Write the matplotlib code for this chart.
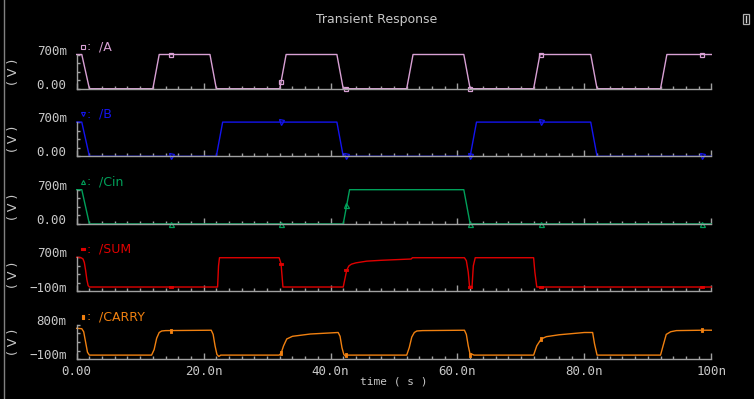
import matplotlib
matplotlib.use('Agg')
import matplotlib.pyplot as plt
from matplotlib.path import Path
from matplotlib.transforms import offset_copy
import matplotlib.patches as mpatches

# ---------------- data ----------------
A_t = [0, 0.8, 2.0, 12.0, 13.0, 21.0, 22.0, 32.0, 33.0, 41.0, 42.0, 52.0, 53.0,
       61.0, 62.0, 72.0, 73.0, 81.0, 82.0, 92.0, 93.0, 100]
A_v = [0.7, 0.7, 0, 0, 0.7, 0.7, 0, 0, 0.7, 0.7, 0, 0, 0.7,
       0.7, 0, 0, 0.7, 0.7, 0, 0, 0.7, 0.7]
A_mt = [14.9, 32.2, 42.5, 61.9, 73.2, 98.6]
A_mv = [0.7, 0.14, 0, 0, 0.7, 0.7]

B_t = [0, 0.8, 2.0, 22.0, 23.0, 41.0, 42.0, 62.0, 63.0, 81.0, 82.0, 100]
B_v = [0.7, 0.7, 0, 0, 0.7, 0.7, 0, 0, 0.7, 0.7, 0, 0]
B_mt = [14.9, 32.2, 42.5, 62.0, 73.2, 98.6]
B_mv = [0, 0.7, 0, 0, 0.7, 0]

C_t = [0, 0.8, 2.0, 42.0, 43.0, 61.0, 62.0, 100]
C_v = [0.7, 0.7, 0, 0, 0.7, 0.7, 0, 0]
C_mt = [14.9, 32.2, 42.5, 62.0, 73.2, 98.6]
C_mv = [0, 0, 0.38, 0, 0, 0]

S_t = [0, 0.7, 1.0, 1.2, 1.4, 1.6, 1.8, 2.0, 22.2, 22.35, 22.5, 31.9, 32.2, 32.5,
       42.0, 42.3, 42.55, 42.9, 43.3, 44.0, 45.7, 48.0, 52.7, 52.9, 61.1, 61.4,
       61.7, 61.9, 62.3, 62.5, 62.8, 72.0, 72.2, 72.5, 100]
S_v = [0.70, 0.69, 0.66, 0.58, 0.40, 0.18, 0.04, 0.005, 0.005, 0.5, 0.69, 0.69, 0.55, 0.005,
       0.005, 0.22, 0.40, 0.50, 0.54, 0.57, 0.61, 0.63, 0.66, 0.69, 0.69, 0.62,
       0.35, 0.02, 0.02, 0.5, 0.69, 0.69, 0.35, 0.005, 0.005]
S_mt = [14.9, 32.2, 42.5, 62.0, 73.2, 98.6]
S_mv = [0.005, 0.55, 0.40, 0.005, 0.005, 0.005]

K_t = [0, 0.8, 1.1, 1.4, 1.7, 2.0, 11.8, 12.2, 12.6, 13.0, 13.4, 14.0, 21.2, 21.5, 21.8,
       22.1, 22.4, 22.7, 31.9, 32.2, 32.6, 33.1, 34.0, 36.8, 41.2, 41.5, 41.8, 42.1,
       42.4, 42.7, 52.0, 52.4, 52.8, 53.2, 53.6, 54.5, 61.1, 61.4, 61.7, 62.0, 62.3,
       62.6, 72.0, 72.5, 73.2, 74.0, 76.0, 80.0, 81.3, 81.6, 82.0, 92.0, 92.4, 92.9,
       93.6, 94.5, 98.6, 100]
K_v = [0.71, 0.70, 0.62, 0.35, 0.08, 0.005, 0.005, 0.15, 0.45, 0.60, 0.64, 0.65, 0.66, 0.55, 0.25,
       0.02, -0.03, 0.005, 0.005, 0.05, 0.25, 0.43, 0.50, 0.56, 0.60, 0.50, 0.20, 0.02,
       -0.03, 0.005, 0.005, 0.20, 0.48, 0.60, 0.64, 0.65, 0.66, 0.55, 0.25, 0.02, 0.03,
       0.005, 0.005, 0.25, 0.43, 0.49, 0.54, 0.60, 0.60, 0.30, 0.005, 0.005, 0.25, 0.55,
       0.62, 0.65, 0.66, 0.66]
K_mt = [14.9, 32.2, 42.5, 62.0, 73.2, 98.6]
K_mv = [0.64, 0.05, 0.005, 0.02, 0.43, 0.66]

names = ['/A', '/B', '/Cin', '/SUM', '/CARRY']
colors = ['#d8a0d4', '#1414f0', '#00a05a', '#e00000', '#f08010']
ylims = [(0.0, 0.7), (0.0, 0.7), (0.0, 0.7), (-0.1, 0.7), (-0.1, 0.8)]
ytick_labels = [('0.00', '700m'), ('0.00', '700m'), ('0.00', '700m'),
                ('\u2212100m', '700m'), ('\u2212100m', '800m')]
xtick_vals = [0, 20, 40, 60, 80, 100]
xtick_labels = ['0.00', '20.0n', '40.0n', '60.0n', '80.0n', '100n']
series = [(A_t, A_v, A_mt, A_mv), (B_t, B_v, B_mt, B_mv), (C_t, C_v, C_mt, C_mv),
          (S_t, S_v, S_mt, S_mv), (K_t, K_v, K_mt, K_mv)]

# ---------------- styling ----------------
W, H = 754, 399
fig = plt.figure(figsize=(W / 100, H / 100), dpi=100, facecolor='black')
grey = '#a0a0a0'
txt = '#c8c8c8'
mono = 'DejaVu Sans Mono'

hrect = Path([(-1, -0.55), (1, -0.55), (1, 0.55), (-1, 0.55), (-1, -0.55)],
             [Path.MOVETO, Path.LINETO, Path.LINETO, Path.LINETO, Path.CLOSEPOLY])
vrect = Path([(-0.55, -1), (0.55, -1), (0.55, 1), (-0.55, 1), (-0.55, -1)],
             [Path.MOVETO, Path.LINETO, Path.LINETO, Path.LINETO, Path.CLOSEPOLY])
markers = ['s', 'v', '^', hrect, vrect]
msizes = [3.0, 3.6, 3.6, 3.3, 3.3]
mfill = ['none', 'none', 'none', 'full', 'full']

left_px, right_px = 76.7, 711.3
top0, step, ph = 54.5, 67.6, 34.2

for i in range(5):
    top = top0 + step * i
    ax = fig.add_axes([left_px / W, 1 - (top + ph) / H, (right_px - left_px) / W, ph / H])
    ax.set_facecolor('black')
    t, v, mt, mv = series[i]
    c = colors[i]
    ax.plot(t, v, color=c, lw=1.0, solid_joinstyle='round', clip_on=False)
    if mfill[i] == 'none':
        ax.plot(mt, mv, ls='none', marker=markers[i], ms=msizes[i], mfc='none',
                mec=c, mew=0.9, clip_on=False)
    else:
        ax.plot(mt, mv, ls='none', marker=markers[i], ms=msizes[i], mfc=c,
                mec=c, mew=0.6, clip_on=False)
    lo, hi = ylims[i]
    ax.set_xlim(0, 100)
    ax.set_ylim(lo, hi)
    for s in ['top', 'right']:
        ax.spines[s].set_visible(False)
    for s in ['left', 'bottom']:
        ax.spines[s].set_color(grey)
        ax.spines[s].set_linewidth(1.0)
    ax.set_xticks(xtick_vals)
    ax.set_xticks([x for x in range(2, 100, 2) if x % 20 != 0], minor=True)
    ax.set_yticks([lo, hi])
    step_y = (hi - lo) / 4
    ax.set_yticks([lo + step_y * k for k in range(1, 4)], minor=True)
    ax.tick_params(axis='both', which='both', direction='in', colors=grey)
    ax.tick_params(axis='x', which='major', length=4, width=1)
    ax.tick_params(axis='x', which='minor', length=2.2, width=1)
    ax.tick_params(axis='y', which='both', length=2.5, width=1, labelleft=False)
    if i < 4:
        ax.tick_params(axis='x', labelbottom=False)
    else:
        ax.set_xticklabels(xtick_labels, fontfamily=mono, fontsize=9, color=txt)
        ax.tick_params(axis='x', which='major', pad=4.5)
    # y labels (ends only)
    tr = offset_copy(ax.get_yaxis_transform(), fig=fig, x=-10, y=3.3, units='dots')
    ax.text(0, lo, ytick_labels[i][0], transform=tr, ha='right', va='center',
            fontfamily=mono, fontsize=9, color=txt)
    ax.text(0, hi, ytick_labels[i][1], transform=tr, ha='right', va='center',
            fontfamily=mono, fontsize=9, color=txt)
    # unit label
    fig.text(13 / W, 1 - (top + ph / 2) / H, '( V )', rotation=90, ha='center',
             va='center', fontsize=9, color=txt)
    # legend entry
    ly = 1 - (top - 8) / H
    fig.lines.append(plt.Line2D([83.3 / W], [ly], transform=fig.transFigure, ls='none',
                                marker=markers[i], ms=msizes[i] * 0.8,
                                mfc=('none' if mfill[i] == 'none' else c), mec=c, mew=0.8))
    fig.text(87 / W, ly, ':', ha='left', va='center', fontsize=9, color=c)
    fig.text(99 / W, ly, names[i], ha='left', va='center', fontsize=9, color=c)

fig.text(394 / W, 1 - 381.7 / H, 'time ( s )', ha='center', va='center',
         fontfamily=mono, fontsize=8, color=txt)
fig.text(376.7 / W, 1 - 19.5 / H, 'Transient Response', ha='center', va='center',
         fontsize=9, color=txt)

# window icon and border
fig.patches.append(mpatches.Rectangle((743 / W, 1 - 24 / H), 5.5 / W, 10.5 / H,
                                      transform=fig.transFigure, fill=False,
                                      edgecolor='#b0b0b0', lw=0.9))
fig.lines.append(plt.Line2D([745.8 / W, 745.8 / W], [1 - 22 / H, 1 - 16 / H],
                            transform=fig.transFigure, color='#d0d0d0', lw=1.0))
fig.lines.append(plt.Line2D([3.5 / W, 3.5 / W], [0, 1], transform=fig.transFigure,
                            color='#808080', lw=1.0))

fig.savefig('out.png', dpi=100, facecolor='black')
